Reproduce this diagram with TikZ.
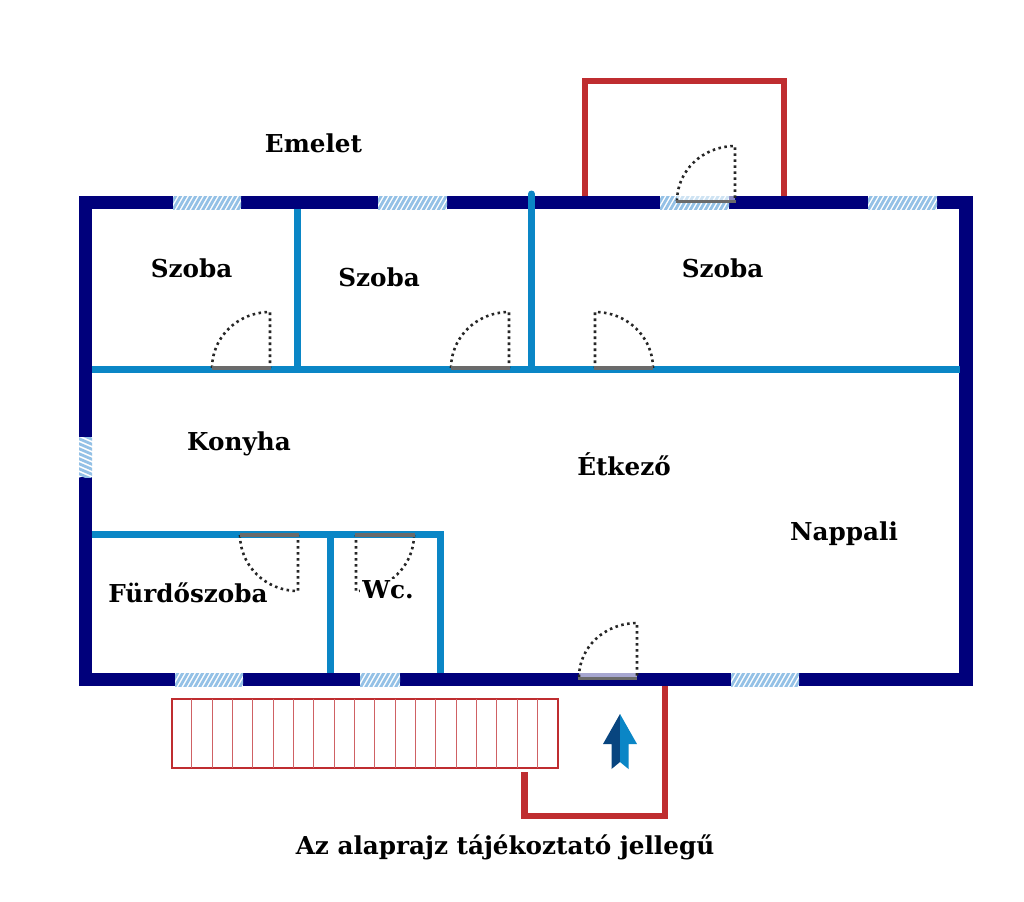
\documentclass[tikz,border=0pt]{standalone}
\usepackage{fontspec}
\setmainfont{DejaVu Serif}
\definecolor{navy}{HTML}{00007B}
\definecolor{wallblue}{HTML}{0A86C6}
\definecolor{wallred}{HTML}{BF2D30}
\definecolor{glass}{HTML}{94C1E6}
\definecolor{darkarrow}{HTML}{08457F}
\definecolor{doorbar}{HTML}{6A6A6A}
\tikzset{
  outerwall/.style={draw=navy,line width=13.5*0.75pt},
  innerwall/.style={draw=wallblue,line width=7*0.75pt},
  redwall/.style={draw=wallred,line width=6.5*0.75pt},
  stairline/.style={draw=wallred!75,line width=0.9*0.75pt},
  doorswing/.style={draw=black!85,line width=2.6*0.75pt,dash pattern=on 1.9pt off 2.6pt},
  doorleaf/.style={draw=doorbar,line width=3.5*0.75pt},
  roomlabel/.style={font=\bfseries\fontsize{18.5}{22}\selectfont,inner sep=0pt,text=black},
}
% window: #1,#2 top-left, #3,#4 bottom-right
\newcommand{\windowbox}[4]{%
  \begin{scope}
    \fill[white] (#1,#2) rectangle (#3,#4);
    \clip (#1,#2) rectangle (#3,#4);
    \foreach \k in {-80,-75,...,80}{
      \draw[glass,line width=2.8*0.75pt] ({(#1+#3)/2+\k-8},{(#2+#4)/2+14}) -- ({(#1+#3)/2+\k+8},{(#2+#4)/2-14});
    }
  \end{scope}}
\begin{document}
\begin{tikzpicture}[x=0.75pt,y=-0.75pt]
\useasboundingbox (0,0) rectangle (1024,901);
\fill[white] (0,0) rectangle (1024,901);

% outer walls
\draw[outerwall] (85.5,202.5) rectangle (966,679.5);

% windows
\windowbox{173}{196}{241}{209}
\windowbox{378}{196}{447}{209}
\windowbox{660}{196}{729}{209}
\windowbox{868}{196}{937}{209}
\windowbox{175}{673}{243}{686}
\windowbox{360}{673}{400}{686}
\windowbox{731}{673}{799}{686}
\begin{scope}
  \fill[white] (79,437) rectangle (92,477);
  \clip (79,437) rectangle (92,477);
  \foreach \k in {432,437,...,492}{
    \draw[glass,line width=2.8*0.75pt] (75,\k) -- (96,\k+9);
  }
\end{scope}

% inner walls
\draw[innerwall] (92,369) -- (960,369);
\draw[innerwall] (297.5,209) -- (297.5,369);
\draw[innerwall,line cap=round] (531.5,194) -- (531.5,369);
\draw[innerwall] (92,534.5) -- (443.5,534.5);
\draw[innerwall] (330,534.5) -- (330,673);
\draw[innerwall] (440,534.5) -- (440,673);

% red walls
\draw[redwall] (585,196) -- (585,81) -- (784,81) -- (784,196);
\draw[redwall] (665,686) -- (665,816) -- (524.5,816) -- (524.5,772);

% stairs
\draw[draw=wallred,line width=2.6*0.75pt] (172,699) rectangle (558,768);
\foreach \i in {1,...,18}{
  \draw[stairline] ({171.3+20.35*\i},699) -- ({171.3+20.35*\i},768);
}

% entrance arrow
\fill[darkarrow] (620,714) -- (603,744) -- (611.5,744) -- (611.5,769) -- (620,762) -- cycle;
\fill[wallblue] (620,714) -- (637,744) -- (628.5,744) -- (628.5,769) -- (620,762) -- cycle;

% doors
\draw[doorswing] (212,368) arc[start angle=180,end angle=90,x radius=58,y radius=-56] -- (270,368);
\draw[doorleaf] (212,368) -- (271,368);
\draw[doorswing] (451,368) arc[start angle=180,end angle=90,x radius=58,y radius=-56] -- (509,368);
\draw[doorleaf] (451,368) -- (510,368);
\draw[doorswing] (653,368) arc[start angle=0,end angle=90,x radius=58,y radius=-56] -- (595,368);
\draw[doorleaf] (594,368) -- (653,368);
\fill[white,opacity=.55] (677,196) rectangle (735,201);
\draw[doorswing] (677,201) arc[start angle=180,end angle=90,x radius=58,y radius=-55] -- (735,201);
\draw[doorleaf] (676,201.5) -- (736,201.5);
\fill[white,opacity=.65] (579,673) rectangle (637,678);
\draw[doorswing] (579,677) arc[start angle=180,end angle=90,x radius=58,y radius=-54] -- (637,677);
\draw[doorleaf] (578,678.5) -- (637,678.5);
\draw[doorswing] (240,535) arc[start angle=180,end angle=270,x radius=58,y radius=-56] -- (298,535);
\draw[doorleaf] (240,535) -- (299,535);
\draw[doorswing] (414,535) arc[start angle=0,end angle=-90,x radius=58,y radius=-56] -- (356,535);
\draw[doorleaf] (355,535) -- (415,535);

% labels
\node[roomlabel] (emelet) at (313.5,143) {Emelet};
\node[roomlabel] (sz1) at (191.5,268) {Szoba};
\node[roomlabel] (sz2) at (379,277) {Szoba};
\node[roomlabel] (sz3) at (722.5,268) {Szoba};
\node[roomlabel] (konyha) at (239,444) {Konyha};
\node[roomlabel] (etkezo) at (624,464) {Étkező};
\node[roomlabel] (nappali) at (844,534) {Nappali};
\node[roomlabel] (furdo) at (188,593) {Fürdőszoba};
\node[roomlabel,fill=white,inner sep=1.5pt] (wc) at (388,590) {Wc.};
\node[roomlabel] (note) at (505,847) {Az alaprajz tájékoztató jellegű};
\end{tikzpicture}
\end{document}
